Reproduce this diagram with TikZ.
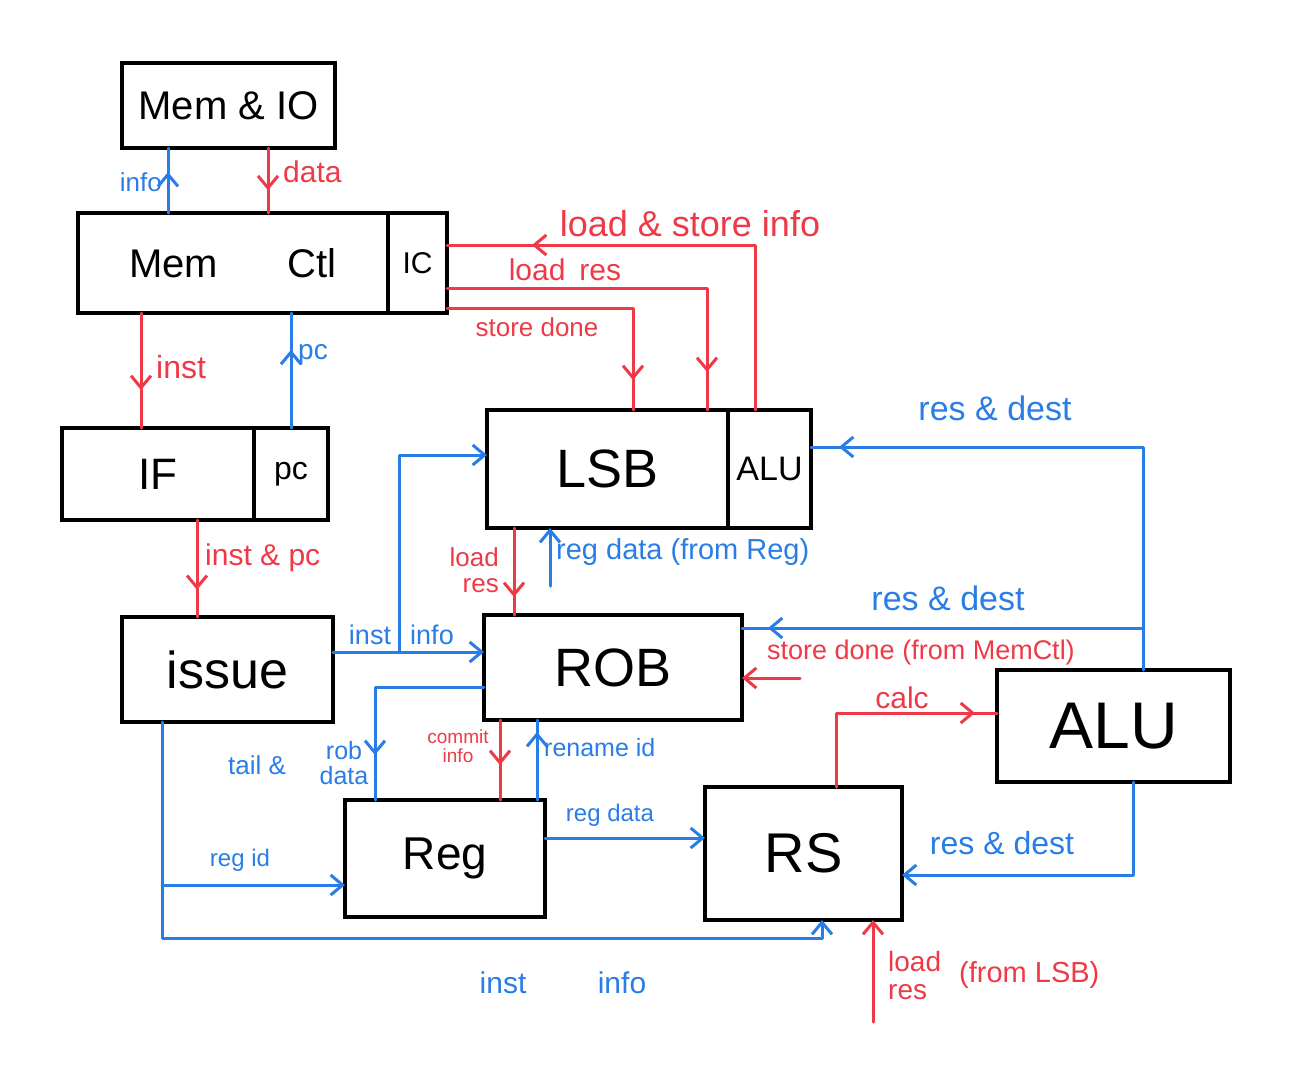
\documentclass[tikz,border=0pt]{standalone}
\usepackage{fontspec}
\setmainfont{Liberation Sans}
\usetikzlibrary{arrows.meta,calc,decorations.markings}
\definecolor{hred}{RGB}{238,58,70}
\definecolor{hblue}{RGB}{40,125,230}
\newcommand\hfsize[1]{\fontsize{#1}{#1}\selectfont}
\tikzset{
  hb/.tip={Straight Barb[length=12pt,width=20pt]},
  box/.style 2 args={draw=black,line width=4pt,outer sep=0pt,inner sep=0pt,minimum width=#1,minimum height=#2},
  lr/.style={draw=hred,line width=3pt,line join=round,line cap=round},
  lb/.style={draw=hblue,line width=3pt,line join=round,line cap=round},
  tr/.style={text=hred,font=\hfsize{#1},inner sep=1pt},
  tb/.style={text=hblue,font=\hfsize{#1},inner sep=1pt},
  arrat/.style={postaction={decorate,decoration={markings,mark=at position #1 with {\arrow{hb}}}}}
}
\begin{document}
\begin{tikzpicture}[x=1pt,y=-1pt]
\useasboundingbox (0,0) rectangle (1293,1080);
% boxes
\node[box={213pt}{85pt}] (memio) at (228.5,105.5) {\hfsize{40}Mem \& IO};
\node[box={310pt}{100pt}] (memctl) at (233,263) {\hfsize{40}Mem\hspace{70pt}Ctl};
\node[box={59pt}{100pt}] (ic) at (417.5,263) {\hfsize{30}IC};
\node[box={192pt}{92pt}] (iff) at (158,474) {\hfsize{44}IF};
\node[box={74pt}{92pt}] (pcb) at (291,474) {\hfsize{32}pc};
\node[box={241pt}{118pt}] (lsb) at (607.5,469) {\hfsize{54}LSB};
\node[box={83pt}{118pt}] (alus) at (769.5,469) {\hfsize{34}ALU};
\node[box={211pt}{105pt}] (issue) at (227.5,669.5) {\hfsize{52}issue};
\node[box={258pt}{105pt}] (rob) at (613,667.5) {\hfsize{54}ROB};
\node[box={233pt}{112pt}] (alu) at (1113.5,726) {\hfsize{66}ALU};
\node[box={200pt}{117pt}] (reg) at (445,858.5) {\hfsize{46}Reg};
\node[box={197pt}{133pt}] (rs) at (803.5,853.5) {\hfsize{56}RS};
% info / data
\draw[lb,arrat=0.63] ($(memctl.north west)+(90,0)$) coordinate (c1) -- (c1 |- memio.south);
\node[tb=26,anchor=east] at (163,182) {info};
\draw[lr,arrat=0.65] ($(memio.south west)+(146,0)$) coordinate (c2) -- (c2 |- memctl.north);
\node[tr=30,anchor=west] at (282,172) {data};
% IC links
\draw[lr,arrat=388pt] ($(alus.north west)+(27,0)$) |- ($(ic.north east)+(0,32)$);
\node[tr=36] at (690,224) {load \& store info};
\draw[lr,arrat=-38pt] ($(ic.north east)+(0,75)$) -| ($(lsb.north west)+(220,0)$);
\node[tr=30] at (565,270) {load\hspace{14pt}res};
\draw[lr,arrat=-30pt] ($(ic.north east)+(0,95)$) -| ($(lsb.north west)+(146,0)$);
\node[tr=26] at (537,327) {store done};
% inst / pc
\draw[lr,arrat=0.67] ($(memctl.south west)+(63,0)$) coordinate (c6) -- (c6 |- iff.north);
\node[tr=32,anchor=west] at (155,367) {inst};
\draw[lb,arrat=0.68] (pcb.north) -- (pcb.north |- memctl.south);
\node[tb=28,anchor=west] at (297,355) {pc};
\draw[lr,arrat=0.72] ($(iff.south west)+(135,0)$) coordinate (c8) -- (c8 |- issue.north);
\node[tr=30,anchor=west] at (204,558) {inst \& pc};
% inst info to ROB and LSB
\draw[lb,-{hb}] ($(issue.north east)+(0,35)$) coordinate (c9) -- coordinate[pos=0.44] (br) (c9 -| rob.west);
\draw[lb,-{hb}] (br) |- ($(lsb.north west)+(0,45)$);
\node[tb=27] at (370,635) {inst};
\node[tb=27] at (432,635) {info};
% LSB <-> ROB
\draw[lr,arrat=-18pt] ($(lsb.south west)+(27,0)$) coordinate (c10) -- (c10 |- rob.north);
\node[tr=26,align=right,anchor=east] at (500,570) {load\\res};
\draw[lb,-{hb}] ($(lsb.south west)+(63,58)$) coordinate (c11) -- (c11 |- lsb.south);
\node[tb=29,anchor=west] at (555,552) {reg data (from Reg)};
% res & dest
\draw[lb,arrat=-28pt] ($(alu.north west)+(146,0)$) |- ($(alus.north east)+(0,37)$);
\node[tb=34] at (995,408) {res \& dest};
\draw[lb,arrat=-26pt] ($(alu.north west)+(146,-42)$) coordinate (c13) -- (c13 -| rob.east);
\node[tb=34] at (948,598) {res \& dest};
\draw[lr,-{hb}] ($(rob.north east)+(58,63)$) coordinate (c14) -- (c14 -| rob.east);
\node[tr=27,anchor=west] at (766,652) {store done (from MemCtl)};
% calc
\draw[lr,arrat=-22pt] ($(rs.north west)+(131,0)$) |- ($(alu.north west)+(0,43)$);
\node[tr=30] at (902,698) {calc};
% ROB <-> Reg
\draw[lb,arrat=-45pt] ($(rob.north west)+(0,72)$) -| ($(reg.north west)+(30,0)$);
\node[tb=26] at (257,765) {tail \&};
\node[tb=25,align=center] at (344,763) {rob\\data};
\draw[lr,arrat=-35pt] ($(rob.south west)+(16,0)$) coordinate (c17) -- (c17 |- reg.north);
\node[tr=19,align=center] at (458,746) {commit\\info};
\draw[lb,arrat=-12pt] ($(reg.north west)+(192,0)$) coordinate (c18) -- (c18 |- rob.south);
\node[tb=25,anchor=west] at (543,748) {rename id};
% Reg -> RS
\draw[lb,-{hb}] ($(reg.north east)+(0,38)$) coordinate (c19) -- (c19 -| rs.west);
\node[tb=24] at (610,815) {reg data};
% issue -> Reg, RS
\draw[lb,-{hb}] ($(issue.south west)+(40,0)$) coordinate (c20) -- ++(0,216) -| ($(rs.south west)+(117,0)$);
\draw[lb,-{hb}] ($(c20)+(0,163)$) coordinate (c21) -- (c21 -| reg.west);
\node[tb=24] at (240,860) {reg id};
\node[tb=30] at (503,983) {inst};
\node[tb=30] at (622,983) {info};
% ALU -> RS
\draw[lb,-{hb}] ($(alu.south west)+(136,0)$) |- ($(rs.north east)+(0,88)$);
\node[tb=32] at (1002,843) {res \& dest};
% load res from LSB
\draw[lr,-{hb}] ($(rs.south west)+(168,102)$) coordinate (c23) -- (c23 |- rs.south);
\node[tr=28,align=left,anchor=west] at (887,975) {load\\res};
\node[tr=29,anchor=west] at (958,975) {(from LSB)};
\end{tikzpicture}
\end{document}
